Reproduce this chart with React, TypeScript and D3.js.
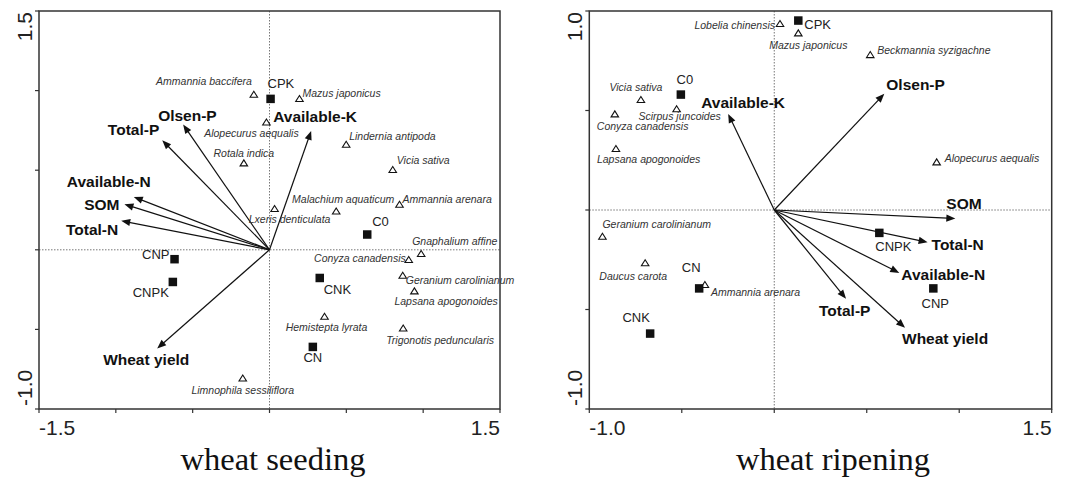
import React from "react";
import * as d3 from "d3";

// ---------- DATA: wheat seeding ----------
const seedSpecies = [
  "Ammannia baccifera", "Mazus japonicus", "Alopecurus aequalis", "Lindernia antipoda",
  "Rotala indica", "Vicia sativa", "Lxeris denticulata", "Malachium aquaticum",
  "Ammannia arenara", "Gnaphalium affine", "Conyza canadensis", "Geranium carolinianum",
  "Lapsana apogonoides", "Hemistepta lyrata", "Trigonotis peduncularis", "Limnophila sessiliflora",
];
const seedSpeciesX = [-0.102, 0.195, -0.02, 0.499, -0.167, 0.802, 0.033, 0.434, 0.846, 0.987, 0.906, 0.867, 0.943, 0.358, 0.87, -0.174];
const seedSpeciesY = [0.977, 0.95, 0.803, 0.663, 0.546, 0.504, 0.259, 0.244, 0.286, -0.023, -0.061, -0.16, -0.258, -0.417, -0.491, -0.805];

const seedTreat = ["CPK", "C0", "CNP", "CNPK", "CNK", "CN"];
const seedTreatX = [0.007, 0.636, -0.618, -0.629, 0.327, 0.282];
const seedTreatY = [0.948, 0.096, -0.059, -0.202, -0.177, -0.61];

const seedEnv = ["Available-K", "Olsen-P", "Total-P", "Available-N", "SOM", "Total-N", "Wheat yield"];
const seedEnvX = [0.271, -0.562, -0.698, -0.883, -0.944, -0.965, -0.731];
const seedEnvY = [0.747, 0.787, 0.688, 0.332, 0.286, 0.182, -0.62];

// ---------- DATA: wheat ripening ----------
const ripeSpecies = [
  "Lobelia chinensis", "Mazus japonicus", "Beckmannia syzigachne", "Vicia sativa",
  "Scirpus juncoides", "Conyza canadensis", "Lapsana apogonoides", "Alopecurus aequalis",
  "Geranium carolinianum", "Daucus carota", "Ammannia arenara",
];
const ripeSpeciesX = [0.031, 0.13, 0.519, -0.721, -0.528, -0.862, -0.856, 0.878, -0.929, -0.698, -0.375];
const ripeSpeciesY = [0.937, 0.89, 0.781, 0.555, 0.509, 0.483, 0.309, 0.242, -0.132, -0.265, -0.374];

const ripeTreat = ["CPK", "C0", "CNPK", "CN", "CNP", "CNK"];
const ripeTreatX = [0.13, -0.505, 0.568, -0.406, 0.86, -0.671];
const ripeTreatY = [0.952, 0.58, -0.115, -0.394, -0.394, -0.621];

const ripeEnv = ["Available-K", "Olsen-P", "SOM", "Total-N", "Available-N", "Total-P", "Wheat yield"];
const ripeEnvX = [-0.249, 0.595, 0.979, 0.829, 0.676, 0.388, 0.707];
const ripeEnvY = [0.483, 0.584, -0.043, -0.162, -0.316, -0.446, -0.592];

// ---------- axis tick labels ----------
const seedXTicks = ["-1.5", "1.5"];
const seedYTicks = ["-1.0", "1.5"];
const ripeXTicks = ["-1.0", "1.5"];
const ripeYTicks = ["-1.0", "1.0"];

// ---------- LAYOUT (label placement: [dx, dy, anchor]) ----------
type Place = [number, number, string];
const seedSpeciesPlace: Place[] = [
  [-2, -13, "end"], [3, -6, "start"], [-15, 11, "middle"], [3, -8, "start"],
  [0, -10, "middle"], [4, -10, "start"], [15, 10, "middle"], [7, -12, "middle"],
  [3, -5, "start"], [-9, -12, "start"], [-3, -2, "end"], [3, 5, "start"],
  [-20, 10, "start"], [2, 11, "middle"], [-17, 12, "start"], [0, 12, "middle"],
];
const seedTreatPlace: Place[] = [
  [-3, -15, "start"], [5, -13, "start"], [-5, -5, "end"], [-4, 11, "end"], [4, 12, "start"], [0, 11, "middle"],
];
const seedEnvPlace: Place[] = [
  [-38, -14, "start"], [-25, -9, "start"], [-3, -11, "end"], [-67, -15, "start"], [-5, 0, "end"], [-3, 9, "end"], [-54, 11, "start"],
];
const ripeSpeciesPlace: Place[] = [
  [-5, 1, "end"], [10, 12, "middle"], [7, -5, "start"], [-5, -13, "middle"],
  [3, 7, "middle"], [-18, 12, "start"], [-19, 10, "start"], [8, -4, "start"],
  [0, -12, "start"], [-12, 13, "middle"], [6, 8, "start"],
];
const ripeTreatPlace: Place[] = [
  [6, 4, "start"], [4, -15, "middle"], [14, 14, "middle"], [-8, -21, "middle"], [2, 15, "middle"], [-14, -16, "middle"],
];
const ripeEnvPlace: Place[] = [
  [-27, -11, "start"], [2, -9, "start"], [-9, -15, "start"], [4, 2, "start"], [2, 2, "start"], [-27, 12, "start"], [-3, 11, "start"],
];

const SANS = "'Liberation Sans', Arial, sans-serif";
const SERIF = "'Liberation Serif', 'Times New Roman', serif";

interface PanelProps {
  xDomain: [number, number];
  yDomain: [number, number];
  left: number; right: number; top: number; bottom: number;
  species: string[]; spX: number[]; spY: number[]; spPlace: Place[];
  treat: string[]; trX: number[]; trY: number[]; trPlace: Place[];
  env: string[]; enX: number[]; enY: number[]; enPlace: Place[];
  xTickLabels: string[]; yTickLabels: string[];
  title: string; titleX: number;
}

function Panel(p: PanelProps) {
  const x = d3.scaleLinear().domain(p.xDomain).range([p.left, p.right]);
  const y = d3.scaleLinear().domain(p.yDomain).range([p.bottom, p.top]);
  const xt = d3.range(p.xDomain[0], p.xDomain[1] + 1e-9, 0.5);
  const yt = d3.range(p.yDomain[0], p.yDomain[1] + 1e-9, 0.5);
  const x0 = x(0), y0 = y(0);
  const tri = (cx: number, cy: number) => {
    const h = 6, w = 7.5;
    return `M${cx},${cy - h / 2}L${cx + w / 2},${cy + h / 2}L${cx - w / 2},${cy + h / 2}Z`;
  };
  const arrow = (tx: number, ty: number) => {
    const dx = tx - x0, dy = ty - y0;
    const len = Math.hypot(dx, dy);
    const ux = dx / len, uy = dy / len;
    const hl = 9, hw = 3.6;
    const bx = tx - ux * hl, by = ty - uy * hl;
    return {
      line: `M${x0},${y0}L${bx + ux * 1},${by + uy * 1}`,
      head: `M${tx},${ty}L${bx - uy * hw},${by + ux * hw}L${bx + uy * hw},${by - ux * hw}Z`,
    };
  };
  return (
    <g>
      {/* reference dotted lines */}
      <line x1={x0} x2={x0} y1={p.top} y2={p.bottom} stroke="#777" strokeWidth={1} strokeDasharray="1.5,1.5" />
      <line x1={p.left} x2={p.right} y1={y0} y2={y0} stroke="#777" strokeWidth={1} strokeDasharray="1.5,1.5" />
      {/* frame */}
      <rect x={p.left} y={p.top} width={p.right - p.left} height={p.bottom - p.top} fill="none" stroke="#333" strokeWidth={1.5} />
      {xt.map((v, i) => (
        <line key={"xt" + i} x1={x(v)} x2={x(v)} y1={p.bottom} y2={p.bottom + 4} stroke="#333" strokeWidth={1.2} />
      ))}
      {yt.map((v, i) => (
        <line key={"yt" + i} x1={p.left - 4} x2={p.left} y1={y(v)} y2={y(v)} stroke="#333" strokeWidth={1.2} />
      ))}
      {/* tick labels */}
      <text x={x(p.xDomain[0])} y={p.bottom + 26} fontSize={21} fontFamily={SANS} fill="#222" textAnchor="start">{p.xTickLabels[0]}</text>
      <text x={x(p.xDomain[1])} y={p.bottom + 26} fontSize={21} fontFamily={SANS} fill="#222" textAnchor="end">{p.xTickLabels[1]}</text>
      <text transform={`translate(${p.left - 7},${p.bottom - 3}) rotate(-90)`} fontSize={21} fontFamily={SANS} fill="#222" textAnchor="start">{p.yTickLabels[0]}</text>
      <text transform={`translate(${p.left - 7},${p.top + 1}) rotate(-90)`} fontSize={21} fontFamily={SANS} fill="#222" textAnchor="end">{p.yTickLabels[1]}</text>
      {/* title */}
      <text x={p.titleX} y={470} fontSize={32.5} fontFamily={SERIF} fill="#111" textAnchor="middle">{p.title}</text>
      {/* env arrows */}
      {p.env.map((name, i) => {
        const tx = x(p.enX[i]), ty = y(p.enY[i]);
        const a = arrow(tx, ty);
        return (
          <g key={"en" + i}>
            <path d={a.line} stroke="#111" strokeWidth={1.2} fill="none" />
            <path d={a.head} fill="#111" />
            <text x={tx + p.enPlace[i][0]} y={ty + p.enPlace[i][1]} dominantBaseline="central" textAnchor={p.enPlace[i][2] as any}
              fontSize={15.5} fontWeight="bold" fontFamily={SANS} fill="#111">{name}</text>
          </g>
        );
      })}
      {/* species */}
      {p.species.map((name, i) => {
        const cx = x(p.spX[i]), cy = y(p.spY[i]);
        return (
          <g key={"sp" + i}>
            <path d={tri(cx, cy)} fill="#fff" stroke="#111" strokeWidth={1.1} />
            <text x={cx + p.spPlace[i][0]} y={cy + p.spPlace[i][1]} dominantBaseline="central" textAnchor={p.spPlace[i][2] as any}
              fontSize={10.5} fontStyle="italic" fontFamily={SANS} fill="#333">{name}</text>
          </g>
        );
      })}
      {/* treatments */}
      {p.treat.map((name, i) => {
        const cx = x(p.trX[i]), cy = y(p.trY[i]);
        return (
          <g key={"tr" + i}>
            <rect x={cx - 4.25} y={cy - 4.25} width={8.5} height={8.5} fill="#111" />
            <text x={cx + p.trPlace[i][0]} y={cy + p.trPlace[i][1]} dominantBaseline="central" textAnchor={p.trPlace[i][2] as any}
              fontSize={13} fontFamily={SANS} fill="#222">{name}</text>
          </g>
        );
      })}
    </g>
  );
}

export default function App() {
  return (
    <svg width={1080} height={477} style={{ position: "absolute", left: 0, top: 0, display: "block", background: "#fff" }}>
      <rect x={0} y={0} width={1080} height={477} fill="#fff" />
      <Panel
        xDomain={[-1.5, 1.5]} yDomain={[-1, 1.5]} left={39} right={500} top={11} bottom={409}
        species={seedSpecies} spX={seedSpeciesX} spY={seedSpeciesY} spPlace={seedSpeciesPlace}
        treat={seedTreat} trX={seedTreatX} trY={seedTreatY} trPlace={seedTreatPlace}
        env={seedEnv} enX={seedEnvX} enY={seedEnvY} enPlace={seedEnvPlace}
        xTickLabels={seedXTicks} yTickLabels={seedYTicks}
        title="wheat seeding" titleX={273}
      />
      <Panel
        xDomain={[-1, 1.5]} yDomain={[-1, 1]} left={589.3} right={1051.7} top={11} bottom={409}
        species={ripeSpecies} spX={ripeSpeciesX} spY={ripeSpeciesY} spPlace={ripeSpeciesPlace}
        treat={ripeTreat} trX={ripeTreatX} trY={ripeTreatY} trPlace={ripeTreatPlace}
        env={ripeEnv} enX={ripeEnvX} enY={ripeEnvY} enPlace={ripeEnvPlace}
        xTickLabels={ripeXTicks} yTickLabels={ripeYTicks}
        title="wheat ripening" titleX={833}
      />
    </svg>
  );
}
